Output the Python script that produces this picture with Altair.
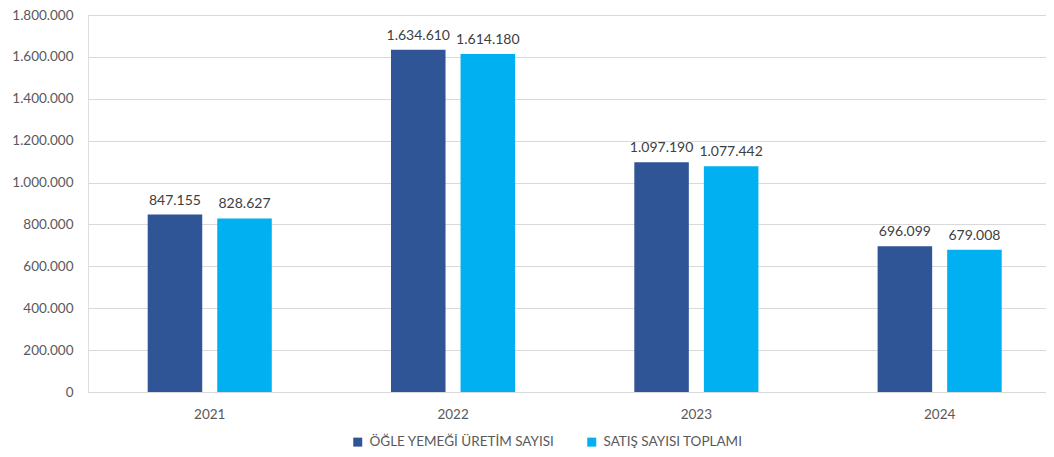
import altair as alt
import pandas as pd

years = ["2021", "2022", "2023", "2024"]
series = ["ÖĞLE YEMEĞİ ÜRETİM SAYISI", "SATIŞ SAYISI TOPLAMI"]
production = [847155, 1634610, 1097190, 696099]
sales = [828627, 1614180, 1077442, 679008]
y_ticks = [0, 200000, 400000, 600000, 800000, 1000000, 1200000, 1400000, 1600000, 1800000]
colors = ["#2F5597", "#00B0F0"]

rows = []
for i, yr in enumerate(years):
    rows.append({"year": yr, "series": series[0], "value": production[i]})
    rows.append({"year": yr, "series": series[1], "value": sales[i]})
df = pd.DataFrame(rows)

FONT = "Lato"

x_enc = alt.X(
    "year:N", title=None, sort=years,
    scale=alt.Scale(paddingInner=0.49, paddingOuter=0.2137, align=0.574),
    axis=alt.Axis(labelAngle=0, domain=False, ticks=False, labelPadding=15,
                  labelFontSize=13.5, labelColor="#595959", labelFont=FONT, grid=False),
)
y_enc = alt.Y(
    "value:Q", title=None,
    scale=alt.Scale(domain=[0, 1800000], nice=False),
    axis=alt.Axis(values=y_ticks, labelExpr="format(datum.value, ',')", grid=True,
                  gridColor="#D9D9D9", domain=False, ticks=False, labelPadding=15,
                  labelFontSize=13.5, labelColor="#595959", labelFont=FONT),
)
xoff = alt.XOffset("series:N", sort=series,
                   scale=alt.Scale(domain=series, paddingInner=0.216, paddingOuter=0))

bars = alt.Chart(df).mark_bar().encode(
    x=x_enc,
    y=y_enc,
    xOffset=xoff,
    color=alt.Color(
        "series:N", sort=series,
        scale=alt.Scale(domain=series, range=colors),
        legend=alt.Legend(orient="none", legendX=263, legendY=420, direction="horizontal",
                          title=None, symbolType="square", symbolSize=81,
                          symbolStrokeWidth=0, labelFontSize=13.5, labelFont=FONT,
                          labelColor="#595959", columnPadding=30, labelOffset=5,
                          labelLimit=400),
    ),
)

labels = alt.Chart(df).mark_text(dy=-10, baseline="alphabetic", fontSize=14,
                                 color="#404040", font=FONT).encode(
    x=alt.X("year:N", sort=years),
    y=alt.Y("value:Q"),
    xOffset=xoff,
    text=alt.Text("value:Q", format=","),
)

chart = alt.layer(bars, labels).properties(
    width=958, height=377,
    padding={"left": 80, "top": 7, "right": 0, "bottom": 57},
    autosize=alt.AutoSizeParams(type="none"),
).configure_view(stroke=None).configure(
    locale={"number": {"decimal": ",", "thousands": ".", "grouping": [3], "currency": ["", ""]}}
)

chart.save("out.html", embed_options={"renderer": "svg", "actions": False})
